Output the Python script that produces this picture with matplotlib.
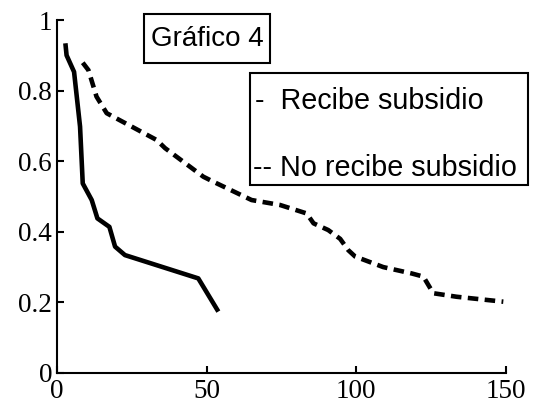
import matplotlib
matplotlib.use("Agg")
import matplotlib.pyplot as plt
from matplotlib.patches import Rectangle

# Data
recibe_x = [2.8, 3.2, 5.7, 7.7, 8.6, 11.6, 13.5, 17.5, 19.4, 22.7, 47.2, 53.9]
recibe_y = [0.934, 0.90, 0.853, 0.698, 0.537, 0.49, 0.438, 0.414, 0.358, 0.334, 0.268, 0.174]

no_recibe_x = [8.6, 10.5, 13.2, 16.6, 33.3, 36.1, 48.9, 52.2, 65.0, 74.5, 83.4, 85.7,
               90.6, 94.6, 97.3, 99.6, 109.0, 118.5, 122.4, 125.7, 133.5, 149.1]
no_recibe_y = [0.879, 0.858, 0.783, 0.736, 0.66, 0.637, 0.556, 0.542, 0.49, 0.476, 0.452, 0.424,
               0.405, 0.38, 0.348, 0.33, 0.30, 0.282, 0.273, 0.226, 0.216, 0.202]

x_ticks = [0, 50, 100, 150]
x_labels = ["0", "50", "100", "150"]
y_ticks = [0, 0.2, 0.4, 0.6, 0.8, 1]
y_labels = ["0", "0.2", "0.4", "0.6", "0.8", "1"]

title_text = "Gráfico 4"
legend_lines = ["-  Recibe subsidio", "-- No recibe subsidio"]

W, H = 540, 409
fig = plt.figure(figsize=(W / 100, H / 100), dpi=100)
ax = fig.add_axes([57 / W, 1 - 373 / H, (506 - 57) / W, (373 - 20) / H])

ax.plot(recibe_x, recibe_y, color="black", lw=3.3, solid_capstyle="butt")
ax.plot(no_recibe_x, no_recibe_y, color="black", lw=3.3, linestyle=(0, (2.3, 1.4)))

ax.set_xlim(0, 150)
ax.set_ylim(0, 1)
ax.set_xticks(x_ticks)
ax.set_xticklabels(x_labels)
ax.set_yticks(y_ticks)
ax.set_yticklabels(y_labels)
for s in ["top", "right"]:
    ax.spines[s].set_visible(False)
for s in ["left", "bottom"]:
    ax.spines[s].set_linewidth(1.5)
ax.tick_params(direction="in", length=5, width=1.5, labelsize=19.5)
ax.tick_params(axis="x", pad=4)
ax.tick_params(axis="y", pad=3.5)
for lab in ax.get_xticklabels() + ax.get_yticklabels():
    lab.set_family("Liberation Serif")

# Title box
fig.patches.append(Rectangle((144 / W, 1 - 63 / H), (270 - 144) / W, (63 - 14) / H,
                             transform=fig.transFigure, fill=True, facecolor="white",
                             edgecolor="black", lw=1.5))
fig.text(207 / W, 1 - 39 / H, title_text, ha="center", va="center",
         fontsize=20, family="Liberation Sans")

# Legend box
fig.patches.append(Rectangle((250 / W, 1 - 185 / H), (528 - 250) / W, (185 - 73) / H,
                             transform=fig.transFigure, fill=True, facecolor="white",
                             edgecolor="black", lw=1.5))
fig.text(255 / W, 1 - 101 / H, legend_lines[0], ha="left", va="center",
         fontsize=20.7, family="Liberation Sans")
fig.text(253 / W, 1 - 168 / H, legend_lines[1], ha="left", va="center",
         fontsize=20.7, family="Liberation Sans")

fig.savefig("out.png", dpi=100)
